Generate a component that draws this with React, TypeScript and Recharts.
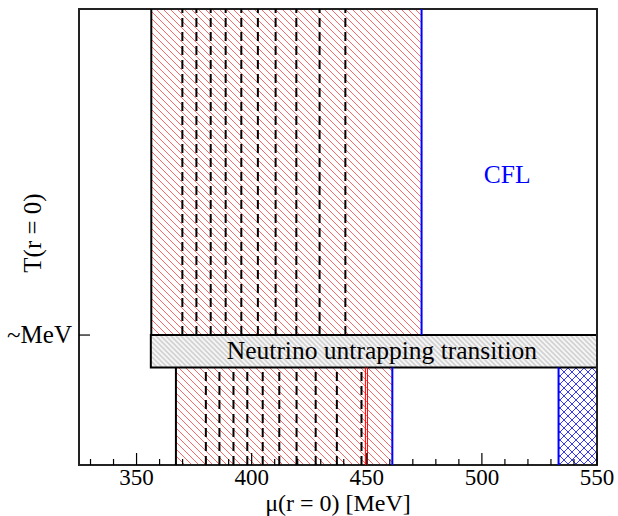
import { ComposedChart, XAxis, YAxis, ReferenceArea, ReferenceLine, ReferenceDot } from 'recharts'

const SERIF = '"Liberation Serif", "Times New Roman", serif'

// axis ticks
const X_TICKS = [330, 340, 350, 360, 370, 380, 390, 400, 410, 420, 430, 440, 450, 460, 470, 480, 490, 500, 510, 520, 530, 540, 550]
const Y_TICKS = [0.285]

// regions (mu in MeV, T in arbitrary units 0..1)
const UPPER_X = [356.4, 473.8]
const LOWER_X = [367.1, 461.1]
const BAND_X = [356.2, 550]
const BAND_Y = [0.214, 0.285]
const CROSS_X = [533.3, 550]
const RED_LINES = [449.4, 450.3]
const UPPER_DASHES = [369.9, 376.0, 382.2, 388.7, 395.5, 402.7, 410.4, 419.4, 429.5, 440.7]
const LOWER_DASHES = [380.1, 386.0, 392.1, 398.1, 404.8, 412.0, 419.5, 427.8, 437.0, 447.7]
const CFL_POS = [511, 0.638]

function BottomTick({ x, y, payload }: any) {
  const major = payload.value % 50 === 0
  return (
    <g>
      <line x1={x} x2={x} y1={y} y2={y - (major ? 12 : 6)} stroke="#000" strokeWidth={1.2} />
      {major && (
        <text x={x} y={y + 20} textAnchor="middle" fontSize={23} fontFamily={SERIF} fill="#000">
          {payload.value}
        </text>
      )}
    </g>
  )
}

function TopTick({ x, y, payload }: any) {
  const major = payload.value % 50 === 0
  return <line x1={x} x2={x} y1={y} y2={y + (major ? 12 : 6)} stroke="#000" strokeWidth={1.2} />
}

function LeftTick({ x, y }: any) {
  return (
    <g>
      <line x1={x} x2={x + 11} y1={y} y2={y} stroke="#000" strokeWidth={1.2} />
      <text x={x - 7} y={y + 8} textAnchor="end" fontSize={25} fontFamily={SERIF} fill="#000">~MeV</text>
    </g>
  )
}

export default function App() {
  return (
    <div style={{ position: 'absolute', left: 0, top: 0, background: '#fff' }}>
      <svg width={0} height={0} style={{ position: 'absolute' }}>
        <defs>
          <pattern id="redHatch" width={7} height={7} patternUnits="userSpaceOnUse">
            <path d="M0,0 L7,7 M-1,6 L1,8 M6,-1 L8,1" stroke="#ff4040" strokeWidth={0.8} />
          </pattern>
          <pattern id="grayHatch" width={5} height={5} patternUnits="userSpaceOnUse">
            <rect width={5} height={5} fill="#f6f6f6" />
            <path d="M0,0 L5,5 M-1,4 L1,6 M4,-1 L6,1" stroke="#d2d2d2" strokeWidth={1.6} />
          </pattern>
          <pattern id="blueCross" width={8} height={8} patternUnits="userSpaceOnUse">
            <path d="M0,0 L8,8 M8,0 L0,8" stroke="#2020ff" strokeWidth={0.9} />
          </pattern>
        </defs>
      </svg>
      <ComposedChart width={618} height={516} margin={{ top: 9, right: 21, bottom: 0, left: 0 }}>
        <XAxis type="number" dataKey="x" domain={[325, 550]} allowDataOverflow ticks={X_TICKS} interval={0}
          tick={<BottomTick />} tickLine={false} axisLine={false} tickSize={0} tickMargin={0} height={51}
          label={{ value: 'μ(r = 0) [MeV]', position: 'insideBottom', offset: 5, fontSize: 24, fontFamily: SERIF, fill: '#000' }} />
        <XAxis xAxisId="top" orientation="top" type="number" domain={[325, 550]} allowDataOverflow ticks={X_TICKS} interval={0}
          tick={<TopTick />} tickLine={false} axisLine={false} tickSize={0} tickMargin={0} height={0} />
        <YAxis type="number" domain={[0, 1]} allowDataOverflow ticks={Y_TICKS} interval={0} width={79}
          tick={<LeftTick />} tickLine={false} axisLine={false} tickSize={0} tickMargin={0}
          label={{
            content: () => (
              <text x={32} y={233} transform="rotate(-90, 32, 233)" textAnchor="middle" dominantBaseline="central"
                fontSize={25} fontFamily={SERIF} fill="#000">T(r = 0)</text>
            ),
          }} />

        <ReferenceArea x1={UPPER_X[0]} x2={UPPER_X[1]} y1={BAND_Y[1]} y2={1} fill="url(#redHatch)" fillOpacity={1} stroke="none" />
        <ReferenceArea x1={LOWER_X[0]} x2={LOWER_X[1]} y1={0} y2={BAND_Y[0]} fill="url(#redHatch)" fillOpacity={1} stroke="none" />
        <ReferenceArea x1={CROSS_X[0]} x2={CROSS_X[1]} y1={0} y2={BAND_Y[0]} fill="url(#blueCross)" fillOpacity={1} stroke="none" />

        {UPPER_DASHES.map(v => (
          <ReferenceLine key={'u' + v} segment={[{ x: v, y: BAND_Y[1] }, { x: v, y: 1 }]} stroke="#000" strokeWidth={2} strokeDasharray="9 5" />
        ))}
        {LOWER_DASHES.map(v => (
          <ReferenceLine key={'l' + v} segment={[{ x: v, y: 0 }, { x: v, y: BAND_Y[0] }]} stroke="#000" strokeWidth={2} strokeDasharray="9 5" />
        ))}
        {RED_LINES.map(v => (
          <ReferenceLine key={'r' + v} segment={[{ x: v, y: 0 }, { x: v, y: BAND_Y[0] }]} stroke="#ff0000" strokeWidth={1} />
        ))}

        <ReferenceLine segment={[{ x: UPPER_X[0], y: BAND_Y[1] }, { x: UPPER_X[0], y: 1 }]} stroke="#000" strokeWidth={2} />
        <ReferenceLine segment={[{ x: UPPER_X[1], y: BAND_Y[1] }, { x: UPPER_X[1], y: 1 }]} stroke="#0000ff" strokeWidth={2} />
        <ReferenceLine segment={[{ x: LOWER_X[0], y: 0 }, { x: LOWER_X[0], y: BAND_Y[0] }]} stroke="#000" strokeWidth={2} />
        <ReferenceLine segment={[{ x: LOWER_X[1], y: 0 }, { x: LOWER_X[1], y: BAND_Y[0] }]} stroke="#0000ff" strokeWidth={2} />
        <ReferenceLine segment={[{ x: CROSS_X[0], y: 0 }, { x: CROSS_X[0], y: BAND_Y[0] }]} stroke="#0000ff" strokeWidth={2} />

        <ReferenceArea x1={BAND_X[0]} x2={BAND_X[1]} y1={BAND_Y[0]} y2={BAND_Y[1]} fill="url(#grayHatch)" fillOpacity={1}
          stroke="#000" strokeWidth={2}
          label={{
            content: ({ viewBox }: any) => (
              <text x={viewBox.x + viewBox.width / 2 + 8} y={viewBox.y + viewBox.height / 2 + 8} textAnchor="middle"
                fontSize={25.5} fontFamily={SERIF} fill="#000">Neutrino untrapping transition</text>
            ),
          }} />

        <ReferenceDot x={CFL_POS[0]} y={CFL_POS[1]} r={0} fill="none" stroke="none"
          label={{ value: 'CFL', position: 'center', fontSize: 25.5, fontFamily: SERIF, fill: '#0000ff' }} />

        <ReferenceArea x1={325} x2={550} y1={0} y2={1} fill="none" stroke="#222" strokeWidth={2} />
      </ComposedChart>
    </div>
  )
}
